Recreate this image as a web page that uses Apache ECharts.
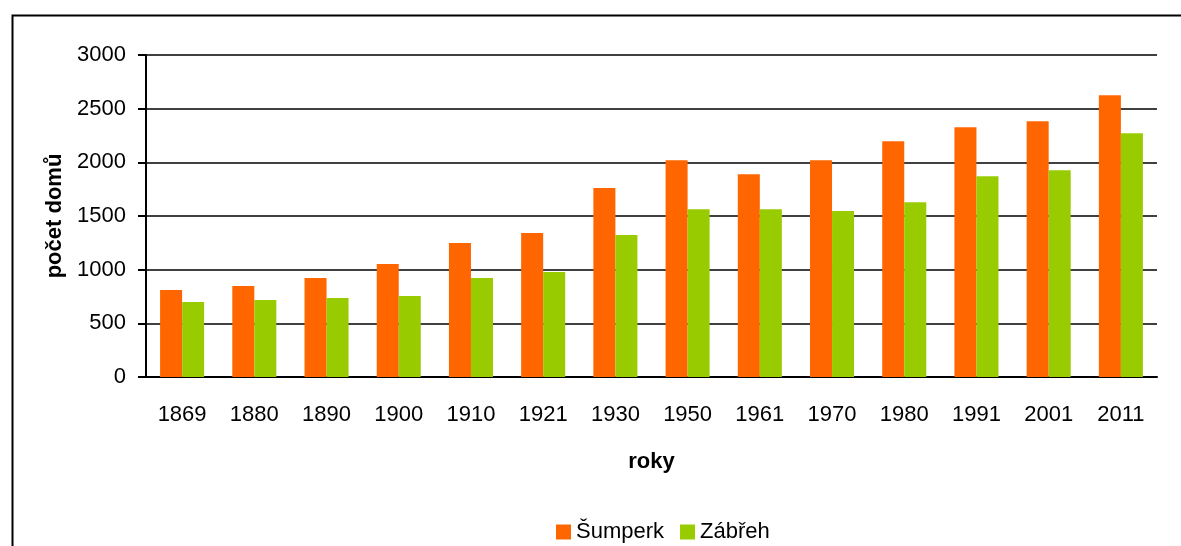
<!DOCTYPE html>
<html>
<head>
<meta charset="utf-8">
<script src="https://cdn.jsdelivr.net/npm/echarts@6/dist/echarts.min.js"></script>
<style>
html, body { margin: 0; padding: 0; background: #fff; }
#main { width: 1181px; height: 546px; }
</style>
</head>
<body>
<div id="main"></div>
<script>
var years = ['1869', '1880', '1890', '1900', '1910', '1921', '1930', '1950', '1961', '1970', '1980', '1991', '2001', '2011'];
var sumperk = [810, 847, 922, 1052, 1248, 1341, 1760, 2020, 1890, 2020, 2197, 2328, 2383, 2626];
var zabreh = [698, 717, 735, 754, 922, 978, 1322, 1564, 1564, 1546, 1629, 1871, 1927, 2272];

var font = 'Liberation Sans, Arial, sans-serif';

var myChart = echarts.init(document.getElementById('main'));
var option = {
    animation: false,
    backgroundColor: '#fff',
    graphic: [{
        type: 'rect',
        left: 10,
        top: 13,
        shape: { width: 1300, height: 700 },
        style: { fill: 'none', stroke: '#000', lineWidth: 2 },
        silent: true
    }],
    grid: {
        left: 146,
        right: 24,
        top: 55,
        bottom: 169
    },
    legend: {
        left: 551,
        top: 516,
        icon: 'rect',
        itemWidth: 15,
        itemHeight: 15,
        itemGap: 16,
        textStyle: { fontFamily: font, fontSize: 22, color: '#000' },
        data: ['Šumperk', 'Zábřeh']
    },
    xAxis: {
        type: 'category',
        data: years,
        name: 'roky',
        nameLocation: 'middle',
        nameGap: 74,
        nameTextStyle: { fontFamily: font, fontSize: 22, fontWeight: 'bold', color: '#000' },
        axisLine: { lineStyle: { color: '#000', width: 2 } },
        axisTick: { length: 8, lineStyle: { color: '#000', width: 2 } },
        axisLabel: { fontFamily: font, fontSize: 22, color: '#000', margin: 27 }
    },
    yAxis: {
        type: 'value',
        min: 0,
        max: 3000,
        interval: 500,
        name: 'počet domů',
        nameLocation: 'middle',
        nameGap: 78,
        nameTextStyle: { fontFamily: font, fontSize: 22, fontWeight: 'bold', color: '#000' },
        axisLine: { show: true, lineStyle: { color: '#000', width: 2 } },
        axisTick: { show: true, length: 8, lineStyle: { color: '#000', width: 2 } },
        axisLabel: {
            fontFamily: font, fontSize: 22, color: '#000', margin: 20,
            formatter: function (v) { return String(v); }
        },
        splitLine: { lineStyle: { color: '#000', width: 1.5 } }
    },
    series: [
        {
            name: 'Šumperk',
            type: 'bar',
            data: sumperk,
            itemStyle: { color: '#FF6600' },
            barGap: '0%',
            barCategoryGap: '39%'
        },
        {
            name: 'Zábřeh',
            type: 'bar',
            data: zabreh,
            itemStyle: { color: '#99CC00' }
        }
    ]
};
myChart.setOption(option);
</script>
</body>
</html>
